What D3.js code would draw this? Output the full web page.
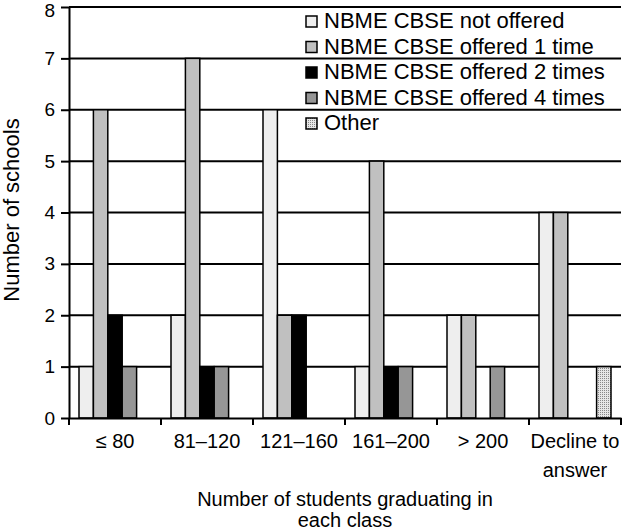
<!DOCTYPE html>
<html>
<head>
<meta charset="utf-8">
<script src="https://cdn.jsdelivr.net/npm/d3@7"></script>
<style>
  body { margin: 0; background: #fff; }
  svg { display: block; font-family: "Liberation Sans", Arial, sans-serif; }
</style>
</head>
<body>
<svg id="drawing_region"></svg>
<script>
const categories = ['≤ 80', '81–120', '121–160', '161–200', '> 200', 'Decline to answer'];
const seriesNames = ['NBME CBSE not offered', 'NBME CBSE offered 1 time', 'NBME CBSE offered 2 times', 'NBME CBSE offered 4 times', 'Other'];
const notOffered = [1, 2, 6, 1, 2, 4];
const offered1 = [6, 7, 2, 5, 2, 4];
const offered2 = [2, 1, 2, 1, 0, 0];
const offered4 = [1, 1, 0, 1, 1, 0];
const other = [0, 0, 0, 0, 0, 1];
const yTicks = [0, 1, 2, 3, 4, 5, 6, 7, 8];

const seriesValues = [notOffered, offered1, offered2, offered4, other];
const fills = ['#eeeeee', '#c0c0c0', '#000000', '#969696', 'url(#dots)'];

const width = 624, height = 532;
const margin = { top: 7, right: 3, bottom: 114, left: 69 };

const svg = d3.select('#drawing_region').attr('width', width).attr('height', height);

// dotted pattern for "Other"
const defs = svg.append('defs');
const pat = defs.append('pattern').attr('id', 'dots').attr('patternUnits', 'userSpaceOnUse')
  .attr('width', 2).attr('height', 2);
pat.append('rect').attr('width', 2).attr('height', 2).attr('fill', '#e6e6e6');
pat.append('rect').attr('width', 1).attr('height', 1).attr('fill', '#888');

const xscale = d3.scaleBand().domain(categories).range([margin.left, width - margin.right]);
const inner = d3.scaleBand().domain(d3.range(seriesNames.length)).range([10, xscale.bandwidth() - 10]);
const yscale = d3.scaleLinear().domain([0, 8]).range([height - margin.bottom, margin.top]);

// gridlines
svg.append('g').selectAll('line').data(yTicks.slice(1)).join('line')
  .attr('x1', margin.left).attr('x2', width - margin.right)
  .attr('y1', d => yscale(d)).attr('y2', d => yscale(d))
  .attr('stroke', '#000').attr('stroke-width', 2);

// bars
const data = [];
categories.forEach((c, i) => seriesValues.forEach((s, j) => data.push({ c: c, j: j, v: s[i] })));
svg.append('g').selectAll('rect').data(data.filter(d => d.v > 0)).join('rect')
  .attr('x', d => xscale(d.c) + inner(d.j))
  .attr('y', d => yscale(d.v))
  .attr('width', inner.bandwidth())
  .attr('height', d => yscale(0) - yscale(d.v))
  .attr('fill', d => fills[d.j])
  .attr('stroke', '#000').attr('stroke-width', 1.5);

// y axis
const yaxis = d3.axisLeft(yscale).tickValues(yTicks).tickSize(8).tickSizeOuter(0).tickPadding(6);
const yg = svg.append('g').attr('transform', `translate(${margin.left},0)`).call(yaxis);
yg.selectAll('line, path').attr('stroke', '#000').attr('stroke-width', 2);
yg.selectAll('text').attr('font-size', 19).attr('fill', '#000').attr('font-family', '"Liberation Sans", Arial, sans-serif');
yg.selectAll('.tick').filter(d => d === 8).select('text').attr('dy', '0.5em');

// x axis
const xaxis = d3.axisBottom(xscale).tickSize(0).tickSizeOuter(0);
const xg = svg.append('g').attr('transform', `translate(0,${yscale(0)})`).call(xaxis);
xg.select('path').attr('stroke', '#000').attr('stroke-width', 2);
xg.selectAll('text').remove();
xg.selectAll('.bnd').data(categories.concat([null])).join('line')
  .attr('x1', (d, i) => margin.left + i * xscale.bandwidth())
  .attr('x2', (d, i) => margin.left + i * xscale.bandwidth())
  .attr('y1', 0).attr('y2', 7).attr('stroke', '#000').attr('stroke-width', 2);

const labels = svg.append('g').attr('font-size', 20).attr('text-anchor', 'middle');
categories.forEach(c => {
  const t = labels.append('text').attr('x', xscale(c) + xscale.bandwidth() / 2).attr('y', yscale(0) + 30);
  const lines = c === 'Decline to answer' ? ['Decline to', 'answer'] : [c];
  lines.forEach((l, k) => t.append('tspan').attr('x', xscale(c) + xscale.bandwidth() / 2).attr('dy', k ? 29 : 0).text(l));
});

// axis titles
svg.append('text').attr('x', 345).attr('y', 506).attr('text-anchor', 'middle').attr('font-size', 20)
  .text('Number of students graduating in');
svg.append('text').attr('x', 345).attr('y', 527).attr('text-anchor', 'middle').attr('font-size', 20)
  .text('each class');
svg.append('text').attr('transform', `translate(19,210) rotate(-90)`)
  .attr('text-anchor', 'middle').attr('font-size', 22).text('Number of schools');

// legend
const legend = svg.append('g').attr('transform', 'translate(306,16)');
seriesNames.forEach((n, i) => {
  const row = legend.append('g').attr('transform', `translate(0,${i * 25.5})`);
  row.append('rect').attr('x', 0).attr('y', 0).attr('width', 11).attr('height', 11)
    .attr('fill', fills[i]).attr('stroke', '#000').attr('stroke-width', 1.5);
  row.append('text').attr('x', 18).attr('y', 12).attr('font-size', 22).text(n);
});
</script>
</body>
</html>
